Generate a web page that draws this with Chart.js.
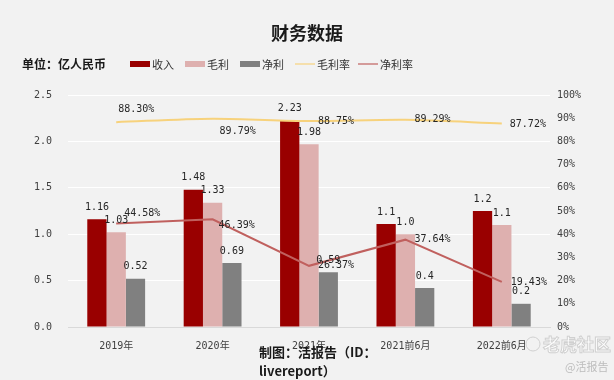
<!DOCTYPE html>
<html><head><meta charset="utf-8">
<script src="https://cdn.jsdelivr.net/npm/chart.js@4.4.1/dist/chart.umd.min.js"></script>
<style>html,body{margin:0;padding:0;background:#f2f2f2;}#wrap{width:614px;height:380px;position:relative;}</style>
</head><body><div id="wrap"><canvas id="c" width="614" height="380"></canvas></div>
<script>
const categories = ['2019年','2020年','2021年','2021前6月','2022前6月'];
const revenue = [1.16, 1.48, 2.23, 1.11, 1.25];
const grossProfit = [1.02, 1.34, 1.97, 1.00, 1.10];
const netProfit = [0.52, 0.69, 0.59, 0.42, 0.25];
const revenueLabels = ['1.16','1.48','2.23','1.1','1.2'];
const grossProfitLabels = ['1.03','1.33','1.98','1.0','1.1'];
const netProfitLabels = ['0.52','0.69','0.59','0.4','0.2'];
const grossMargin = [88.30, 89.79, 88.75, 89.29, 87.72];
const netMargin = [44.58, 46.39, 26.37, 37.64, 19.43];
const seriesNames = ['收入','毛利','净利','毛利率','净利率'];
const titleText = '财务数据';
const unitText = '单位：亿人民币';
const sourceLines = ['制图：活报告（ID：', 'livereport）'];

const NUMFONT = "'DejaVu Sans Mono','Noto Sans CJK SC',monospace";
const CJK = "'Noto Sans CJK SC','Noto Sans',sans-serif";

// label offsets (layout only)
const grossOffsets = [[2,-13],[7,13],[9,0],[9,0],[8,1]];
const netOffsets = [[8,-10],[6,6],[9,0],[9,0],[9,0]];

const labelPlugin = {
  id: 'labels',
  afterDatasetsDraw(chart) {
    const ctx = chart.ctx;
    ctx.save();
    ctx.font = '10px ' + NUMFONT;
    ctx.fillStyle = '#262626';
    const barLabels = [revenueLabels, grossProfitLabels, netProfitLabels];
    [2,3,4].forEach((di, k) => {
      const meta = chart.getDatasetMeta(di);
      meta.data.forEach((el, i) => {
        ctx.textAlign = 'center';
        ctx.textBaseline = 'middle';
        ctx.fillText(barLabels[k][i], el.x, el.y - 12);
      });
    });
    const lineSets = [[0, grossMargin, grossOffsets], [1, netMargin, netOffsets]];
    lineSets.forEach(([di, vals, offs]) => {
      const meta = chart.getDatasetMeta(di);
      meta.data.forEach((el, i) => {
        ctx.textAlign = 'left';
        ctx.textBaseline = 'middle';
        ctx.fillText(vals[i].toFixed(2) + '%', el.x + offs[i][0], el.y + offs[i][1]);
      });
    });
    ctx.restore();
  },
  afterDraw(chart) {
    const ctx = chart.ctx;
    ctx.save();
    ctx.fillStyle = '#1a1a1a';
    ctx.font = 'bold 18px ' + CJK;
    ctx.textAlign = 'center';
    ctx.textBaseline = 'middle';
    ctx.fillText(titleText, 307, 33);
    ctx.font = 'bold 12px ' + CJK;
    ctx.textAlign = 'left';
    ctx.fillText(unitText, 22, 64);
    const ds = chart.data.datasets;
    const order = [2,3,4,0,1];
    const xs = [130, 185, 240, 295, 358];
    ctx.font = '11px ' + CJK;
    order.forEach((di, k) => {
      const d = ds[di];
      const x = xs[k];
      if (d.type === 'bar') {
        ctx.fillStyle = d.backgroundColor;
        ctx.fillRect(x, 61, 20, 6);
      } else {
        ctx.strokeStyle = d.borderColor;
        ctx.lineWidth = 1.2;
        ctx.beginPath(); ctx.moveTo(x, 64); ctx.lineTo(x + 20, 64); ctx.stroke();
      }
      ctx.fillStyle = '#333';
      ctx.textBaseline = 'middle';
      ctx.fillText(d.label, x + 22, 65);
    });
    ctx.fillStyle = '#1a1a1a';
    ctx.font = 'bold 13px ' + CJK;
    ctx.fillText(sourceLines[0], 259, 352);
    ctx.fillText(sourceLines[1], 259, 371);
    ctx.strokeStyle = '#d0d0d0';
    ctx.lineWidth = 1;
    ctx.beginPath(); ctx.arc(533, 344, 7, 0, Math.PI * 2); ctx.stroke();
    ctx.font = 'bold 17px ' + CJK;
    ctx.fillStyle = 'rgba(255,255,255,0.9)';
    ctx.fillText('老虎社区', 543, 345);
    ctx.strokeText('老虎社区', 543, 345);
    ctx.font = '11px ' + CJK;
    ctx.fillStyle = '#bdbdbd';
    ctx.fillText('@活报告', 565, 367);
    ctx.restore();
  }
};

new Chart(document.getElementById('c'), {
  data: {
    labels: categories,
    datasets: [
      { type: 'line', label: seriesNames[3], data: grossMargin, yAxisID: 'y1', borderColor: '#F7D27C', backgroundColor: '#F7D27C', borderWidth: 2, pointRadius: 0, tension: 0.3, order: 0 },
      { type: 'line', label: seriesNames[4], data: netMargin, yAxisID: 'y1', borderColor: '#C0605E', backgroundColor: '#C0605E', borderWidth: 2, pointRadius: 0, tension: 0, order: 0 },
      { type: 'bar', label: seriesNames[0], data: revenue, yAxisID: 'y', backgroundColor: '#990000', categoryPercentage: 0.6, barPercentage: 1.0, order: 1 },
      { type: 'bar', label: seriesNames[1], data: grossProfit, yAxisID: 'y', backgroundColor: '#DEB0AF', categoryPercentage: 0.6, barPercentage: 1.0, order: 1 },
      { type: 'bar', label: seriesNames[2], data: netProfit, yAxisID: 'y', backgroundColor: '#808080', categoryPercentage: 0.6, barPercentage: 1.0, order: 1 }
    ]
  },
  options: {
    responsive: false,
    devicePixelRatio: 1,
    animation: false,
    layout: { padding: { top: 95, bottom: 0, left: 0, right: 0 } },
    plugins: { legend: { display: false }, title: { display: false }, tooltip: { enabled: false } },
    scales: {
      x: {
        grid: { display: false },
        border: { display: true, color: '#d9d9d9' },
        ticks: { font: { family: NUMFONT, size: 10 }, color: '#404040', padding: 5, maxRotation: 0 },
        afterFit(s) { s.height = 53; }
      },
      y: {
        position: 'left', min: 0, max: 2.5,
        grid: { color: '#ffffff', lineWidth: 1, drawTicks: false },
        border: { display: false },
        ticks: { stepSize: 0.5, padding: 16, font: { family: NUMFONT, size: 10 }, color: '#404040', callback: v => v.toFixed(1) },
        afterFit(s) { s.width = 68; }
      },
      y1: {
        position: 'right', min: 0, max: 100,
        grid: { display: false, drawTicks: false },
        border: { display: false },
        ticks: { stepSize: 10, padding: 7, font: { family: NUMFONT, size: 10 }, color: '#404040', callback: v => v + '%' },
        afterFit(s) { s.width = 64; }
      }
    }
  },
  plugins: [labelPlugin]
});
</script>
</body></html>
